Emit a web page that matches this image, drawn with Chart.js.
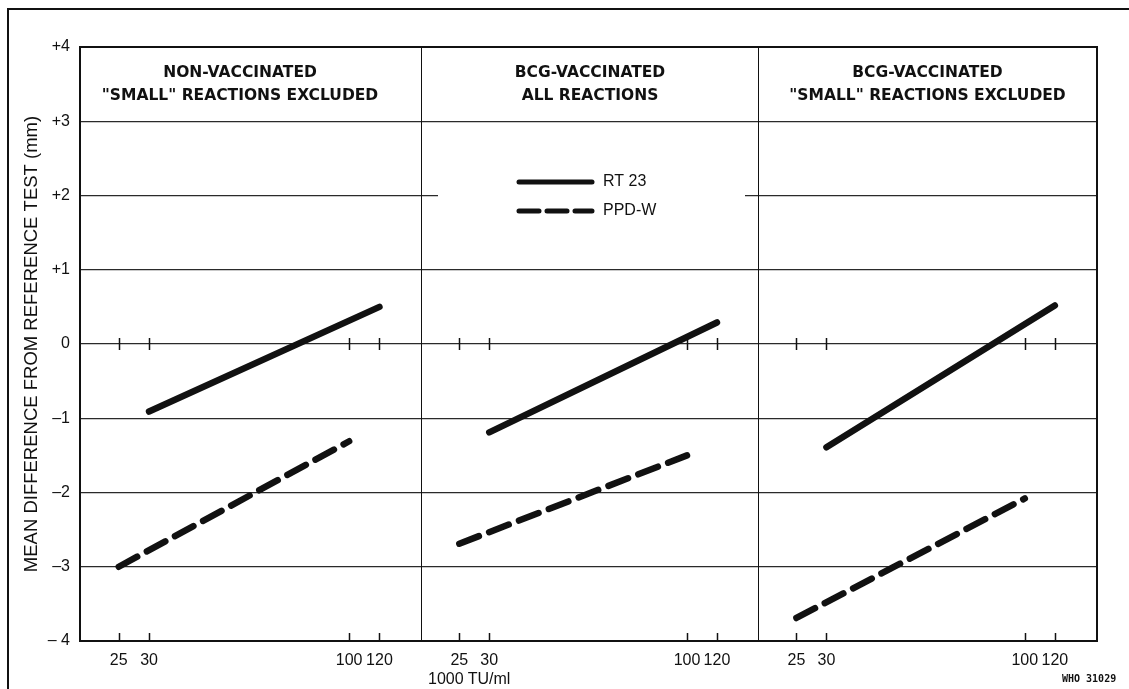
<!DOCTYPE html>
<html>
<head>
<meta charset="utf-8">
<script src="https://cdn.jsdelivr.net/npm/chart.js@4/dist/chart.umd.min.js"></script>
<style>
  body { margin: 0; background: #fff; width: 1129px; height: 689px; overflow: hidden; position: relative; font-family: "Liberation Sans", Arial, sans-serif; }
  .frame { position: absolute; left: 7px; top: 8px; right: -5px; bottom: -5px; border-top: 2px solid #111; border-left: 2px solid #111; }
  .panel { position: absolute; top: 0; height: 689px; }
  #xTitle { position: absolute; left: 428px; top: 670px; font-size: 16px; color: #111; }
  #who { position: absolute; left: 1062px; top: 673px; font: bold 10px "DejaVu Sans Mono", monospace; color: #111; }
</style>
</head>
<body>
<div class="frame"></div>
<div class="panel" style="left:0;width:422px"><canvas id="panel1"></canvas></div>
<div class="panel" style="left:421px;width:338px"><canvas id="panel2"></canvas></div>
<div class="panel" style="left:758px;width:371px"><canvas id="panel3"></canvas></div>
<div id="xTitle">1000 TU/ml</div>
<div id="who">WHO 31029</div>

<script>
// x ticks (TU/ml, thousands) and y tick labels
const doseTicks = [25, 30, 100, 120];
const yTickLabels = ['\u2013 4', '\u20133', '\u20132', '\u20131', '0', '+1', '+2', '+3', '+4'];

// doses at which each line starts and ends
const rt23Doses = [30, 120];
const ppdDoses = [25, 100];

// mean difference from reference test (mm)
const rt23NonVacc = [-0.91, 0.50];
const ppdNonVacc = [-3.00, -1.31];
const rt23BcgAll = [-1.19, 0.29];
const ppdBcgAll = [-2.69, -1.50];
const rt23BcgExcl = [-1.39, 0.52];
const ppdBcgExcl = [-3.69, -2.08];

const panelTitles = [
    ['NON-VACCINATED', '"SMALL" REACTIONS EXCLUDED'],
    ['BCG-VACCINATED', 'ALL REACTIONS'],
    ['BCG-VACCINATED', '"SMALL" REACTIONS EXCLUDED']
];
const seriesNames = ['RT 23', 'PPD-W'];

const ink = '#111';

// box, inner ticks, titles and legend
const panelDeco = {
    id: 'panelDeco',
    beforeDatasetsDraw(chart, args, opts) {
        const ctx = chart.ctx, a = chart.chartArea;
        const x = chart.scales.x, y = chart.scales.y;
        ctx.save();
        if (opts.legend) {
            // legend sits on top of the +2 grid line
            ctx.fillStyle = '#fff';
            ctx.fillRect(a.left + 17, y.getPixelForValue(2) - 6, a.right - a.left - 31, 12);
        }
        ctx.strokeStyle = ink;
        ctx.lineWidth = 1.5;
        const y0 = y.getPixelForValue(0);
        ctx.beginPath();
        doseTicks.forEach(v => {
            const px = Math.round(x.getPixelForValue(v)) + 0.5;
            ctx.moveTo(px, y0 - 6); ctx.lineTo(px, y0 + 6);
            ctx.moveTo(px, a.bottom); ctx.lineTo(px, a.bottom - 8);
        });
        ctx.stroke();
        ctx.lineWidth = 2;
        ctx.strokeRect(a.left, a.top, a.right - a.left, a.bottom - a.top);
        ctx.restore();
    },
    afterDatasetsDraw(chart, args, opts) {
        const ctx = chart.ctx, a = chart.chartArea;
        ctx.save();
        ctx.fillStyle = ink;
        ctx.font = 'bold 15.5px "DejaVu Sans", sans-serif';
        ctx.textAlign = 'center';
        ctx.textBaseline = 'middle';
        const cx = (a.left + a.right) / 2 + (opts.shift || 0);
        ctx.fillText(opts.title[0], cx, a.top + 26);
        ctx.fillText(opts.title[1], cx, a.top + 49);

        if (opts.legend) {
            ctx.font = '16px "Liberation Sans", Arial, sans-serif';
            ctx.textAlign = 'left';
            chart.data.datasets.forEach((ds, i) => {
                const ly = a.top + 135 + i * 29;
                ctx.strokeStyle = ds.borderColor;
                ctx.lineWidth = 5;
                ctx.lineCap = 'round';
                ctx.setLineDash(i ? [20, 8] : []);
                ctx.beginPath();
                ctx.moveTo(a.left + 98, ly);
                ctx.lineTo(a.left + 171, ly);
                ctx.stroke();
                ctx.setLineDash([]);
                ctx.fillText(ds.label, a.left + 182, ly);
            });
        }
        ctx.restore();
    }
};

function makePanel(id, idx, rtVals, ppdVals, extra) {
    const first = idx === 0;
    return new Chart(document.getElementById(id), {
        type: 'line',
        data: {
            datasets: [
                {
                    label: seriesNames[0],
                    data: rt23Doses.map((d, i) => ({ x: d, y: rtVals[i] })),
                    borderColor: ink,
                    borderWidth: 6.5,
                    borderCapStyle: 'round',
                    pointRadius: 0
                },
                {
                    label: seriesNames[1],
                    data: ppdDoses.map((d, i) => ({ x: d, y: ppdVals[i] })),
                    borderColor: ink,
                    borderWidth: 6.5,
                    borderCapStyle: 'round',
                    borderDash: [21, 11],
                    pointRadius: 0
                }
            ]
        },
        options: {
            responsive: true,
            maintainAspectRatio: false,
            animation: false,
            layout: { padding: { left: 0, top: 47, right: extra.padRight || 0, bottom: 0 } },
            plugins: {
                legend: { display: false },
                tooltip: { enabled: false },
                panelDeco: { title: panelTitles[idx], legend: !!extra.legend, shift: extra.shift || 0 }
            },
            scales: {
                x: {
                    type: 'logarithmic',
                    min: 19.8,
                    max: 155,
                    afterBuildTicks: s => { s.ticks = doseTicks.map(v => ({ value: v })); },
                    afterFit: s => { s.height = 48; },
                    grid: { display: false },
                    border: { display: false },
                    ticks: {
                        autoSkip: false,
                        maxRotation: 0,
                        padding: 2,
                        color: ink,
                        font: { family: '"Liberation Sans", Arial, sans-serif', size: 16 },
                        callback: v => String(v)
                    }
                },
                y: {
                    min: -4,
                    max: 4,
                    afterFit: s => { s.width = first ? 80 : 0; },
                    border: { display: false },
                    grid: { color: '#2a2a2a', lineWidth: 1.3, drawTicks: false },
                    ticks: {
                        display: first,
                        stepSize: 1,
                        padding: 10,
                        color: ink,
                        font: { family: '"Liberation Sans", Arial, sans-serif', size: 16 },
                        callback: (v, i) => yTickLabels[i]
                    },
                    title: {
                        display: first,
                        text: 'MEAN DIFFERENCE FROM REFERENCE TEST (mm)',
                        color: ink,
                        font: { family: '"Liberation Sans", Arial, sans-serif', size: 18.5 },
                        padding: { top: 21, bottom: 0 }
                    }
                }
            }
        },
        plugins: [panelDeco]
    });
}

makePanel('panel1', 0, rt23NonVacc, ppdNonVacc, { shift: -11 });
makePanel('panel2', 1, rt23BcgAll, ppdBcgAll, { legend: true });
makePanel('panel3', 2, rt23BcgExcl, ppdBcgExcl, { padRight: 32 });
</script>
</body>
</html>
